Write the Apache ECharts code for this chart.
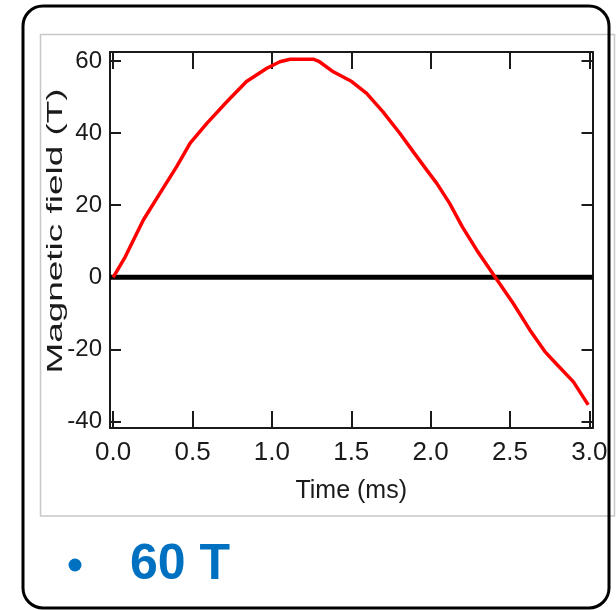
<!DOCTYPE html>
<html>
<head>
<meta charset="utf-8">
<title>Magnetic field pulse</title>
<script src="https://cdn.jsdelivr.net/npm/echarts@6/dist/echarts.min.js"></script>
<style>
  html, body { margin: 0; padding: 0; background: #fff; }
  #main { width: 616px; height: 610px; }
</style>
</head>
<body>
<div id="main"></div>
<script>
// data
var timeMs = [0, 0.076, 0.19, 0.307, 0.40, 0.485, 0.59, 0.716, 0.84, 0.968, 1.05, 1.115, 1.26, 1.30,
              1.387, 1.503, 1.597, 1.70, 1.807, 1.891, 1.975, 2.04, 2.12, 2.2, 2.29, 2.404, 2.52,
              2.625, 2.72, 2.79, 2.90, 2.993];
var fieldT = [0, 5.7, 15.9, 24.2, 30.7, 37.2, 42.7, 48.7, 54.3, 58, 59.8, 60.5, 60.5, 59.8,
              57, 54.3, 51, 45.9, 39.9, 34.8, 29.8, 26, 20.5, 14, 7.6, 0.2, -7.2,
              -14.6, -20.6, -23.9, -29, -35.4];
var xTicks = [0, 0.5, 1.0, 1.5, 2.0, 2.5, 3.0];
var yTicks = [-40, -20, 0, 20, 40, 60];
var zeroX = [-0.02, 3.02];
var zeroY = [0, 0];

var ink = '#1a1a1a';
var narrow = '"Liberation Sans Narrow", "Liberation Sans", Arial, sans-serif';

var curve = timeMs.map(function (t, i) { return [t, fieldT[i]]; });
var zero = zeroX.map(function (t, i) { return [t, zeroY[i]]; });

function xAx(pos, labels) {
  return {
    type: 'value', position: pos, min: -0.02, max: 3.02,
    name: labels ? 'Time (ms)' : '', nameLocation: 'middle', nameGap: 51,
    nameTextStyle: { fontFamily: narrow, fontSize: 25, color: ink },
    axisLine: { show: true, onZero: false, lineStyle: { color: ink, width: 2 } },
    axisTick: { show: true, inside: true, length: 17, customValues: xTicks, lineStyle: { color: ink, width: 2 } },
    axisLabel: { show: labels, customValues: xTicks, margin: 12, fontFamily: narrow, fontSize: 26, color: ink,
                 formatter: function (v) { return v.toFixed(1); } },
    splitLine: { show: false }
  };
}
function yAx(pos, labels) {
  return {
    type: 'value', position: pos, min: -41.8, max: 62.5,
    axisLine: { show: true, onZero: false, lineStyle: { color: ink, width: 2 } },
    axisTick: { show: true, inside: true, length: 11, customValues: yTicks, lineStyle: { color: ink, width: 2 } },
    axisLabel: { show: labels, customValues: yTicks, margin: 8, fontFamily: narrow, fontSize: 24, color: ink },
    splitLine: { show: false }
  };
}

var chart = echarts.init(document.getElementById('main'));
chart.setOption({
  animation: false,
  grid: { left: 110, right: 23.5, top: 52, bottom: 182 },
  xAxis: [xAx('bottom', true), xAx('top', false)],
  yAxis: [yAx('left', true), yAx('right', false)],
  graphic: [
    { type: 'rect', z: -10, shape: { x: 40.5, y: 34.5, width: 574, height: 481.5 },
      style: { fill: 'none', stroke: '#c8c8c8', lineWidth: 1.5 } },
    { type: 'rect', z: 10, shape: { x: 23, y: 6, width: 586, height: 602, r: 20 },
      style: { fill: 'none', stroke: '#000', lineWidth: 3 } },
    { type: 'text', x: 56, y: 231, rotation: Math.PI / 2, scaleX: 1.42, scaleY: 0.88,
      style: { text: 'Magnetic field (T)', font: '26px "Liberation Sans", Arial, sans-serif',
               fill: ink, textAlign: 'center', textVerticalAlign: 'middle' } },
    { type: 'circle', shape: { cx: 75, cy: 565, r: 6.5 }, style: { fill: '#0070c0' } },
    { type: 'text', x: 130, y: 565,
      style: { text: '60 T', font: 'bold 50px "Liberation Sans", Arial, sans-serif',
               fill: '#0070c0', textAlign: 'left', textVerticalAlign: 'middle' } }
  ],
  series: [
    { type: 'line', data: zero, symbol: 'none', silent: true, z: 1,
      lineStyle: { color: '#000', width: 5 } },
    { type: 'line', data: curve, symbol: 'none', z: 2,
      lineStyle: { color: '#ff0000', width: 3.5 } }
  ]
});
</script>
</body>
</html>
